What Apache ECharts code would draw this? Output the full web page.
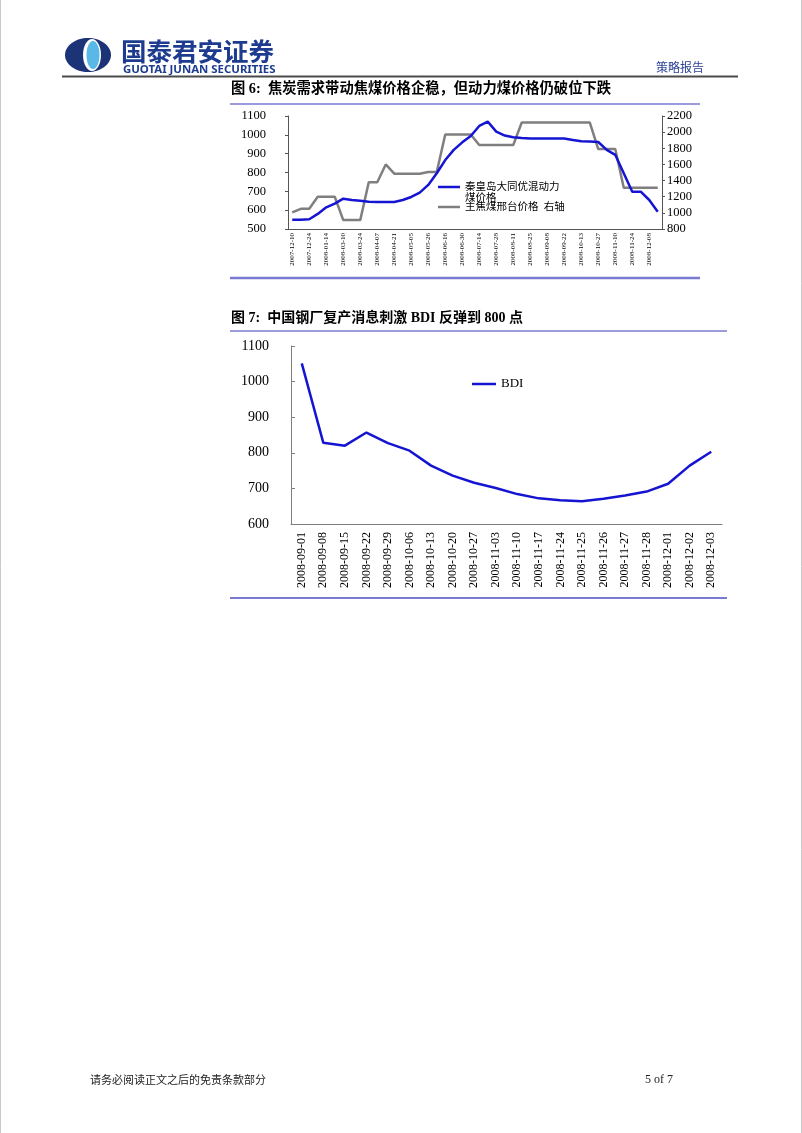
<!DOCTYPE html>
<html>
<head>
<meta charset="utf-8">
<script src="https://cdn.jsdelivr.net/npm/echarts@6/dist/echarts.min.js"></script>
<style>
html,body{margin:0;padding:0;background:#fff;}
#page{width:802px;height:1133px;}
</style>
</head>
<body>
<div id="page"></div>
<script>
// ---- Figure 6 data ----
const cats1 = ['2007-12-10','2007-12-17','2007-12-24','2008-01-07','2008-01-14','2008-01-21','2008-03-10','2008-03-17','2008-03-24','2008-03-31','2008-04-07','2008-04-14','2008-04-21','2008-04-28','2008-05-05','2008-05-12','2008-05-26','2008-06-02','2008-06-16','2008-06-23','2008-06-30','2008-07-07','2008-07-14','2008-07-21','2008-07-28','2008-08-04','2008-08-11','2008-08-18','2008-08-25','2008-09-01','2008-09-08','2008-09-15','2008-09-22','2008-10-06','2008-10-13','2008-10-20','2008-10-27','2008-11-03','2008-11-10','2008-11-17','2008-11-24','2008-12-01','2008-12-08','2008-12-15'];
const steamCoal = [549,549,552,580,615,635,661,654,650,645,643,643,643,654,670,693,734,796,866,920,960,994,1047,1070,1017,996,987,983,981,981,981,981,980,973,966,964,962,920,894,796,698,698,654,592];
const cokingCoal = [1005,1050,1050,1200,1200,1200,910,910,910,1380,1380,1600,1485,1485,1485,1485,1505,1505,1970,1970,1970,1970,1840,1840,1840,1840,1840,2120,2120,2120,2120,2120,2120,2120,2120,2120,1790,1790,1790,1310,1310,1310,1310,1310];
const name1a = '秦皇岛大同优混动力煤价格';
const name1b = '主焦煤邢台价格  右轴';
const leftAxis1 = [500, 1100, 100];
const rightAxis1 = [800, 2200, 200];

// ---- Figure 7 data ----
const cats2 = ['2008-09-01','2008-09-08','2008-09-15','2008-09-22','2008-09-29','2008-10-06','2008-10-13','2008-10-20','2008-10-27','2008-11-03','2008-11-10','2008-11-17','2008-11-24','2008-11-25','2008-11-26','2008-11-27','2008-11-28','2008-12-01','2008-12-02','2008-12-03'];
const bdi = [1051,828,820,857,827,806,764,736,716,701,684,672,667,664,671,680,691,713,764,803];
const axis2 = [600, 1100, 100];

// ---- Page texts ----
const title1 = '图 6:  焦炭需求带动焦煤价格企稳，但动力煤价格仍破位下跌';
const title2 = '图 7:  中国钢厂复产消息刺激 BDI 反弹到 800 点';
const footerText = '请务必阅读正文之后的免责条款部分';
const pageText = '5 of 7';

const SERIF = 'Liberation Serif, "Noto Sans CJK SC", serif';
const CJK = '"Noto Sans CJK SC", sans-serif';
const BLUE = '#1414d2';
const GRAY = '#7f7f7f';
const RULE = '#7a7ad2';
const plain = function (v) { return String(v); };

const chart = echarts.init(document.getElementById('page'), null, {renderer: 'canvas', width: 802, height: 1133});

function txt(x, y, text, size, opts) {
  return {type: 'text', silent: true, style: Object.assign({x: x, y: y, text: text, fontSize: size, fontFamily: CJK, fill: '#000', align: 'left', verticalAlign: 'middle'}, opts || {})};
}
function ln(x1, y1, x2, y2, color, w) {
  return {type: 'line', silent: true, shape: {x1: x1, y1: y1, x2: x2, y2: y2}, style: {stroke: color, lineWidth: w}};
}

const graphics = [
  // page border
  ln(0.5, 0, 0.5, 1133, '#c8c8c8', 1),
  ln(801.5, 0, 801.5, 1133, '#c8c8c8', 1),
  // logo
  {type: 'ellipse', silent: true, shape: {cx: 88, cy: 55, rx: 23, ry: 17}, style: {fill: '#1c3477'}},
  {type: 'ellipse', silent: true, shape: {cx: 92, cy: 55, rx: 9, ry: 16}, style: {fill: '#ffffff'}},
  {type: 'ellipse', silent: true, shape: {cx: 93, cy: 55, rx: 6.5, ry: 14}, style: {fill: '#5ab8e6'}},
  txt(121, 51, '国泰君安证券', 25.5, {fontWeight: 'bold', fill: '#1d3c8f'}),
  txt(123, 69.5, 'GUOTAI JUNAN SECURITIES', 11.4, {fontWeight: 'bold', fill: '#1d3c8f', fontFamily: '"Noto Sans", sans-serif'}),
  txt(656, 67, '策略报告', 12, {fill: '#2a3f96'}),
  ln(62, 76.5, 738, 76.5, '#4a4a4a', 2),
  // figure 6 title & rules
  txt(231, 89, title1, 14.3, {fontWeight: 'bold', fontFamily: SERIF}),
  ln(230, 104, 700, 104, RULE, 1.5),
  ln(230, 278, 700, 278, RULE, 2.5),
  // figure 7 title & rules
  txt(231, 318, title2, 14, {fontWeight: 'bold', fontFamily: SERIF}),
  ln(230, 331, 727, 331, RULE, 1.5),
  ln(230, 598, 727, 598, RULE, 2),
  // footer
  txt(90, 1080, footerText, 11, {fill: '#222'}),
  txt(645, 1080, pageText, 12, {fontFamily: SERIF, fill: '#222'})
];

const option = {
  backgroundColor: '#ffffff',
  animation: false,
  graphic: graphics,
  grid: [
    {left: 288, top: 116, width: 374, height: 113, containLabel: false},
    {left: 291, top: 346, width: 431, height: 178, containLabel: false}
  ],
  legend: [
    {
      data: [name1a], orient: 'vertical', left: 438, top: 170.5, padding: 0,
      icon: 'rect', itemWidth: 22, itemHeight: 2.5,
      formatter: function (n) { return ' \n秦皇岛大同优混动力\n煤价格'; },
      textStyle: {fontFamily: SERIF, fontSize: 10.5, lineHeight: 11, color: '#000'}
    },
    {
      data: [name1b], orient: 'vertical', left: 438, top: 201.5, padding: 0,
      icon: 'rect', itemWidth: 22, itemHeight: 2.5,
      textStyle: {fontFamily: SERIF, fontSize: 10.5, lineHeight: 11, color: '#000'}
    },
    {
      data: ['BDI'], left: 472, top: 377, padding: 0,
      icon: 'rect', itemWidth: 24, itemHeight: 2.5,
      textStyle: {fontFamily: SERIF, fontSize: 13, lineHeight: 14, color: '#000'}
    }
  ],
  xAxis: [
    {
      type: 'category', gridIndex: 0, data: cats1, boundaryGap: true,
      axisLine: {lineStyle: {color: '#555', width: 1}},
      axisTick: {inside: true, length: 3, interval: 0, lineStyle: {color: '#555'}},
      axisLabel: {interval: 1, rotate: 90, fontSize: 7, margin: 4, fontFamily: SERIF, color: '#000', padding: [0, 0, 8, 0]},
      splitLine: {show: false}
    },
    {
      type: 'category', gridIndex: 1, data: cats2, boundaryGap: true,
      axisLine: {lineStyle: {color: '#808080', width: 1}},
      axisTick: {inside: true, length: 4, interval: 0, lineStyle: {color: '#808080'}},
      axisLabel: {interval: 0, rotate: 90, fontSize: 12, margin: 8, fontFamily: SERIF, color: '#000'},
      splitLine: {show: false}
    }
  ],
  yAxis: [
    {
      type: 'value', gridIndex: 0, position: 'left', min: leftAxis1[0], max: leftAxis1[1], interval: leftAxis1[2],
      axisLine: {show: true, lineStyle: {color: '#555'}},
      axisTick: {show: true, inside: false, length: 3, lineStyle: {color: '#555'}},
      axisLabel: {fontSize: 12.5, margin: 22, fontFamily: SERIF, color: '#000', formatter: plain},
      splitLine: {show: false}
    },
    {
      type: 'value', gridIndex: 0, position: 'right', min: rightAxis1[0], max: rightAxis1[1], interval: rightAxis1[2],
      axisLine: {show: true, lineStyle: {color: '#555'}},
      axisTick: {show: true, inside: false, length: 3, lineStyle: {color: '#555'}},
      axisLabel: {fontSize: 12.5, margin: 5, fontFamily: SERIF, color: '#000', formatter: plain},
      splitLine: {show: false}
    },
    {
      type: 'value', gridIndex: 1, min: axis2[0], max: axis2[1], interval: axis2[2],
      axisLine: {show: true, lineStyle: {color: '#808080'}},
      axisTick: {show: true, inside: true, length: 4, lineStyle: {color: '#808080'}},
      axisLabel: {fontSize: 14, margin: 22, fontFamily: SERIF, color: '#000', formatter: plain},
      splitLine: {show: false}
    }
  ],
  series: [
    {
      name: name1b, type: 'line', xAxisIndex: 0, yAxisIndex: 1, data: cokingCoal,
      symbol: 'none', lineStyle: {color: GRAY, width: 2.5}, itemStyle: {color: GRAY}
    },
    {
      name: name1a, type: 'line', xAxisIndex: 0, yAxisIndex: 0, data: steamCoal,
      symbol: 'none', lineStyle: {color: BLUE, width: 2.5}, itemStyle: {color: BLUE}, z: 3
    },
    {
      name: 'BDI', type: 'line', xAxisIndex: 1, yAxisIndex: 2, data: bdi,
      symbol: 'none', lineStyle: {color: BLUE, width: 2.5}, itemStyle: {color: BLUE}
    }
  ]
};
chart.setOption(option);
</script>
</body>
</html>
